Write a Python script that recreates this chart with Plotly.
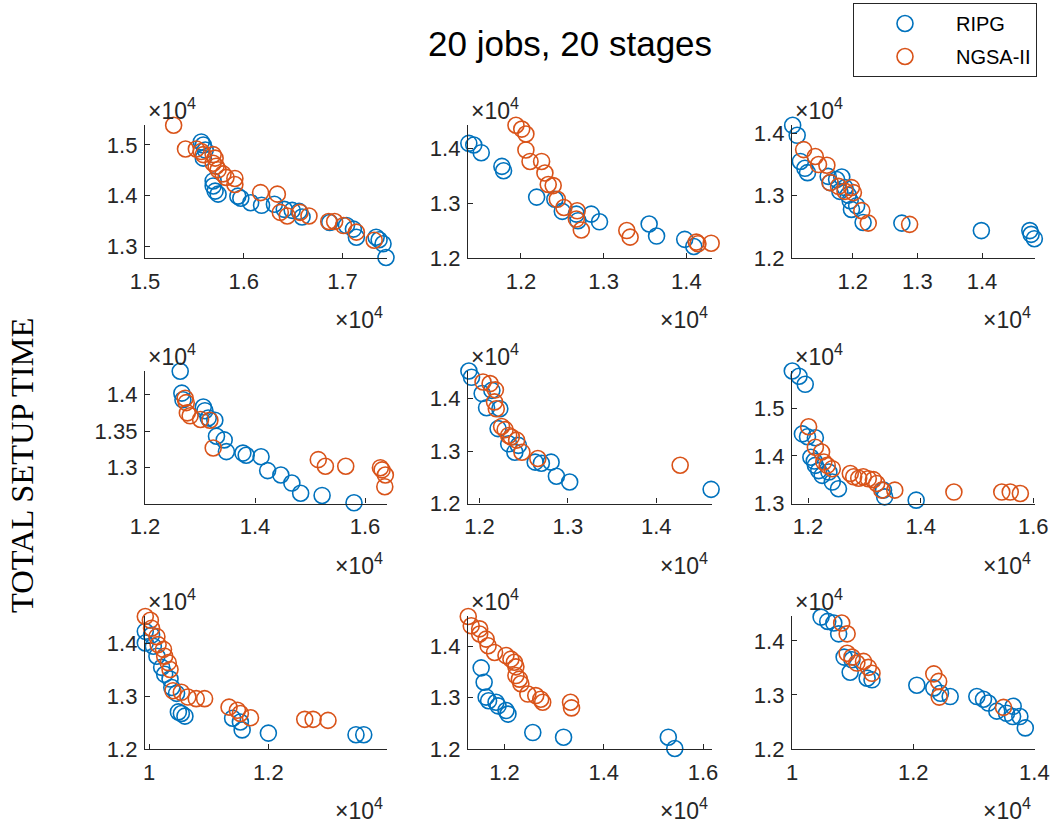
import plotly.graph_objects as go

W, H = 1055, 825

# ---------------- data (values in real units) ----------------
p1_ripg_x = [15570, 15590, 15610, 15590, 15690, 15690, 15710, 15740, 15940, 15970, 16070, 16180, 16310, 16410, 16490, 16560, 16590, 16870, 17040, 17110, 17140, 17340, 17370, 17410, 17440]
p1_ripg_y = [15060, 15000, 14900, 14740, 14290, 14190, 14090, 14030, 13990, 13950, 13860, 13810, 13830, 13730, 13710, 13690, 13580, 13470, 13410, 13340, 13180, 13180, 13130, 13050, 12780]
p1_nsga_x = [15290, 15410, 15520, 15570, 15590, 15690, 15710, 15690, 15720, 15740, 15790, 15820, 15910, 15910, 16170, 16340, 16370, 16440, 16570, 16660, 16860, 16920, 17010, 17140, 17320]
p1_nsga_y = [15390, 14920, 14920, 14870, 14810, 14810, 14740, 14640, 14580, 14510, 14430, 14360, 14340, 14220, 14060, 14030, 13670, 13600, 13670, 13600, 13490, 13490, 13410, 13280, 13120]

p2_ripg_x = [11370, 11430, 11520, 11770, 11790, 12190, 12410, 12500, 12670, 12690, 12850, 12950, 13550, 13640, 13980, 14090]
p2_ripg_y = [14090, 14060, 13920, 13670, 13590, 13110, 13070, 12850, 12800, 12680, 12800, 12660, 12620, 12400, 12340, 12210]
p2_nsga_x = [11940, 12010, 12060, 12060, 12110, 12250, 12290, 12330, 12390, 12440, 12520, 12680, 12670, 12730, 13280, 13320, 14120, 14140, 14300]
p2_nsga_y = [14420, 14350, 14260, 13970, 13760, 13760, 13550, 13340, 13320, 13070, 12920, 12860, 12710, 12510, 12500, 12380, 12290, 12260, 12270]

p3_ripg_x = [11070, 11140, 11190, 11260, 11300, 11620, 11650, 11750, 11830, 11800, 11880, 11930, 11960, 11980, 12060, 12160, 12760, 13990, 14740, 14760, 14810]
p3_ripg_y = [14130, 13970, 13550, 13440, 13370, 13310, 13210, 13260, 13300, 13070, 13130, 13010, 12920, 12780, 12840, 12570, 12560, 12440, 12440, 12380, 12310]
p3_nsga_x = [11240, 11420, 11470, 11600, 11650, 11780, 11880, 11980, 12010, 12140, 12240, 12880]
p3_nsga_y = [13740, 13630, 13500, 13490, 13210, 13150, 13070, 13130, 13050, 12760, 12560, 12540]

p4_ripg_x = [12640, 12670, 12690, 13060, 13090, 13150, 13270, 13300, 13440, 13480, 13780, 13840, 14110, 14230, 14470, 14670, 14830, 15220, 15800]
p4_ripg_y = [14320, 14020, 13930, 13830, 13780, 13680, 13650, 13430, 13380, 13220, 13200, 13170, 13150, 12960, 12900, 12790, 12650, 12620, 12520]
p4_nsga_x = [12730, 12750, 12770, 12820, 13010, 13180, 13240, 15150, 15280, 15650, 16280, 16310, 16370, 16360]
p4_nsga_y = [13950, 13890, 13750, 13710, 13660, 13650, 13270, 13110, 13020, 13020, 13000, 12970, 12900, 12740]

p5_ripg_x = [11880, 11910, 12030, 12080, 12140, 12230, 12210, 12330, 12400, 12440, 12630, 12700, 12810, 12870, 13020, 14620]
p5_ripg_y = [14530, 14410, 14100, 13830, 14160, 13810, 13430, 13140, 12980, 13110, 12790, 12770, 12790, 12520, 12410, 12270]
p5_nsga_x = [12040, 12120, 12180, 12170, 12190, 12250, 12290, 12330, 12360, 12420, 12480, 12660, 14270]
p5_nsga_y = [14320, 14290, 14170, 13940, 13810, 13470, 13410, 13300, 13270, 13210, 12980, 12860, 12730]

p6_ripg_x = [11720, 11840, 11950, 11900, 11990, 12130, 12050, 12110, 12130, 12190, 12250, 12370, 12430, 12540, 13340, 13360, 13920, 14040]
p6_ripg_y = [15780, 15670, 15500, 14460, 14400, 14380, 13970, 13890, 13800, 13690, 13590, 13660, 13450, 13310, 13280, 13140, 13070, 12990]
p6_nsga_x = [12010, 12130, 12240, 12280, 12340, 12430, 12750, 12810, 12900, 12980, 13070, 13160, 13220, 13310, 13540, 14590, 15440, 15590, 15770, 15820]
p6_nsga_y = [14610, 14180, 14080, 13870, 13800, 13730, 13630, 13560, 13530, 13560, 13520, 13500, 13420, 13280, 13280, 13240, 13240, 13240, 13210, 12990]

p7_ripg_x = [9935, 9935, 10040, 10070, 10130, 10210, 10260, 10350, 10380, 10460, 10490, 10540, 10600, 11400, 11530, 11560, 12000, 13470, 13600]
p7_ripg_y = [14220, 14000, 14150, 13940, 13750, 13540, 13410, 13320, 13160, 13050, 12700, 12670, 12620, 12580, 12510, 12360, 12300, 12270, 12270]
p7_nsga_x = [9935, 10020, 10040, 10130, 10150, 10240, 10260, 10320, 10350, 10400, 10540, 10650, 10790, 10930, 11340, 11480, 11530, 11700, 12610, 12750, 13000]
p7_nsga_y = [14500, 14430, 14280, 14120, 13970, 13880, 13750, 13630, 13500, 13100, 13070, 12980, 12950, 12950, 12790, 12730, 12670, 12590, 12560, 12560, 12540]

p8_ripg_x = [11530, 11590, 11630, 11680, 11830, 11870, 12030, 12070, 12570, 13190, 15300, 15430]
p8_ripg_y = [13580, 13300, 13010, 12940, 12910, 12840, 12750, 12680, 12320, 12230, 12230, 12010]
p8_nsga_x = [11270, 11330, 11500, 11500, 11630, 11670, 11800, 12030, 12130, 12200, 12230, 12230, 12300, 12330, 12470, 12630, 12730, 12770, 13330, 13350]
p8_nsga_y = [14580, 14400, 14340, 14240, 14140, 14010, 13880, 13820, 13750, 13690, 13600, 13430, 13360, 13270, 13070, 13040, 12970, 12910, 12910, 12800]

p9_ripg_x = [10480, 10590, 10690, 10770, 10860, 10990, 10960, 11240, 11320, 12060, 12340, 12450, 12610, 13050, 13160, 13240, 13380, 13540, 13640, 13760, 13850, 13650]
p9_ripg_y = [14440, 14360, 14330, 14130, 13700, 13650, 13420, 13310, 13280, 13180, 13130, 13030, 12970, 12970, 12920, 12850, 12700, 12660, 12600, 12600, 12390, 12790]
p9_nsga_x = [10820, 10910, 10910, 10990, 11070, 11180, 11260, 11320, 12340, 12420, 12430, 13490]
p9_nsga_y = [14330, 14130, 13770, 13700, 13590, 13620, 13510, 13400, 13390, 13250, 12960, 12770]

# axis limits and ticks per panel
x_ranges = [[15000, 17450], [11360, 14310], [11060, 14820],
            [12000, 16400], [11870, 14630], [11715, 16030],
            [9930, 13990], [11265, 16180], [10000, 14010]]
y_ranges = [[12770, 15400], [12000, 14430], [12000, 14140],
            [12510, 14330], [12000, 14540], [13000, 15790],
            [12000, 14510], [12000, 14590], [12000, 14460]]
x_ticks = [[15000, 16000, 17000], [12000, 13000, 14000], [12000, 13000, 14000],
           [12000, 14000, 16000], [12000, 13000, 14000], [12000, 14000, 16000],
           [10000, 12000, 14000], [12000, 14000, 16000], [10000, 12000, 14000]]
y_ticks = [[13000, 14000, 15000], [12000, 13000, 14000], [12000, 13000, 14000],
           [13000, 13500, 14000], [12000, 13000, 14000], [13000, 14000, 15000],
           [12000, 13000, 14000], [12000, 13000, 14000], [12000, 13000, 14000]]

series_names = ["RIPG", "NGSA-II"]
title_text = "20 jobs, 20 stages"
ylabel_text = "TOTAL SETUP TIME"

panels = [
    (p1_ripg_x, p1_ripg_y, p1_nsga_x, p1_nsga_y),
    (p2_ripg_x, p2_ripg_y, p2_nsga_x, p2_nsga_y),
    (p3_ripg_x, p3_ripg_y, p3_nsga_x, p3_nsga_y),
    (p4_ripg_x, p4_ripg_y, p4_nsga_x, p4_nsga_y),
    (p5_ripg_x, p5_ripg_y, p5_nsga_x, p5_nsga_y),
    (p6_ripg_x, p6_ripg_y, p6_nsga_x, p6_nsga_y),
    (p7_ripg_x, p7_ripg_y, p7_nsga_x, p7_nsga_y),
    (p8_ripg_x, p8_ripg_y, p8_nsga_x, p8_nsga_y),
    (p9_ripg_x, p9_ripg_y, p9_nsga_x, p9_nsga_y),
]

# ---------------- layout geometry (pixels) ----------------
col_px = [(145, 387), (468, 712), (792, 1035)]
row_px = [(124.7, 258), (370.5, 503.5), (616, 749)]

BLUE = "#0072BD"
ORANGE = "#D95319"
AX = "#262626"
FONT = "Liberation Sans, Arial, Helvetica, sans-serif"
TICK_FS = 22
EXP_FS = 23


def fmt(v):
    return f"{v / 1e4:g}"


fig = go.Figure()
annotations = []
layout_axes = {}

for i, (rx, ry, nx, ny) in enumerate(panels):
    r, c = divmod(i, 3)
    xs = "" if i == 0 else str(i + 1)
    x0, x1 = col_px[c]
    yt, yb = row_px[r]
    fig.add_trace(go.Scatter(
        x=rx, y=ry, mode="markers", name=series_names[0],
        legendgroup="r", showlegend=(i == 0), cliponaxis=False,
        marker=dict(symbol="circle-open", size=16, color=BLUE, line=dict(width=1.6, color=BLUE)),
        xaxis="x" + xs, yaxis="y" + xs))
    fig.add_trace(go.Scatter(
        x=nx, y=ny, mode="markers", name=series_names[1],
        legendgroup="n", showlegend=(i == 0), cliponaxis=False,
        marker=dict(symbol="circle-open", size=16, color=ORANGE, line=dict(width=1.6, color=ORANGE)),
        xaxis="x" + xs, yaxis="y" + xs))
    common = dict(showgrid=False, zeroline=False, showline=True, linecolor=AX, linewidth=1.3,
                  ticks="inside", ticklen=5, tickwidth=1, tickcolor=AX, mirror=False,
                  automargin=False,
                  tickfont=dict(family=FONT, size=TICK_FS, color=AX))
    layout_axes["xaxis" + xs] = dict(
        common, domain=[x0 / W, x1 / W], range=x_ranges[i], anchor="y" + xs,
        ticklabelstandoff=3,
        tickvals=x_ticks[i], ticktext=[fmt(v) for v in x_ticks[i]])
    layout_axes["yaxis" + xs] = dict(
        common, domain=[1 - yb / H, 1 - yt / H], range=y_ranges[i], anchor="x" + xs,
        ticklabelstandoff=2,
        tickvals=y_ticks[i], ticktext=[fmt(v) for v in y_ticks[i]])
    # exponent labels
    annotations.append(dict(text="×10<sup>4</sup>", xref="paper", yref="paper",
                            x=(x0 + 1) / W, y=1 - (yt - 16) / H, xanchor="left", yanchor="middle",
                            showarrow=False, font=dict(family=FONT, size=EXP_FS, color=AX)))
    annotations.append(dict(text="×10<sup>4</sup>", xref="paper", yref="paper",
                            x=(x1 - 2) / W, y=1 - (yb + 60) / H, xanchor="right", yanchor="middle",
                            showarrow=False, font=dict(family=FONT, size=EXP_FS, color=AX)))

annotations.append(dict(text=title_text, xref="paper", yref="paper", x=570 / W, y=1 - 43 / H,
                        xanchor="center", yanchor="middle", showarrow=False,
                        font=dict(family=FONT, size=35, color="black")))
annotations.append(dict(text=ylabel_text, xref="paper", yref="paper", x=22 / W, y=1 - 466 / H,
                        xanchor="center", yanchor="middle", showarrow=False, textangle=-90,
                        font=dict(family="Liberation Serif, Times New Roman, serif", size=32.5, color="black")))

fig.update_layout(
    width=W, height=H, margin=dict(l=0, r=0, t=0, b=0, pad=0),
    paper_bgcolor="white", plot_bgcolor="white",
    annotations=annotations,
    legend=dict(x=853 / W, y=1 - 3 / H, xanchor="left", yanchor="top",
                bordercolor=AX, borderwidth=1, bgcolor="white",
                font=dict(family=FONT, size=20, color="black"),
                indentation=0, itemwidth=92, tracegroupgap=4),
    **layout_axes,
)

fig.write_html("out.html")
